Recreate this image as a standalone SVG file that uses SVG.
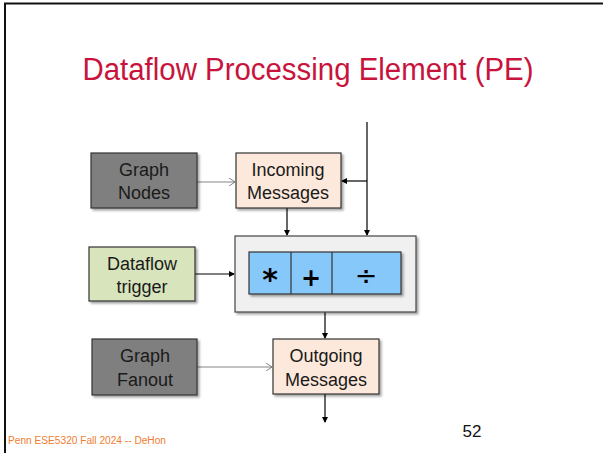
<svg xmlns="http://www.w3.org/2000/svg" width="603" height="453" viewBox="0 0 603 453">
<style>
.lbl{font-family:"Liberation Sans",Arial,sans-serif;font-size:18px;fill:#1a1a1a;text-anchor:middle}
.box{stroke:#333;stroke-width:1.2}
.gray{fill:#7f7f7f}
.peach{fill:#fce9db}
.green{fill:#d8e4bc}
.pe{fill:#f0f0f0;stroke:#444;stroke-width:1.2}
.alu{fill:#87c8fa;stroke:#333;stroke-width:1.2}
.wire{stroke:#000;stroke-width:1.2;fill:none}
.thin{stroke:#666;stroke-width:0.8;fill:none}
.op{font-family:"DejaVu Sans",sans-serif;fill:#000;text-anchor:middle}
</style>
<defs>
<filter id="sh" x="-10%" y="-10%" width="130%" height="130%">
<feDropShadow dx="2" dy="2" stdDeviation="1" flood-color="#000" flood-opacity="0.35"/>
</filter>
<marker id="ah" markerWidth="6" markerHeight="6" refX="5" refY="3" orient="auto" markerUnits="userSpaceOnUse">
<path d="M0,0 L6,3 L0,6 z" fill="#000"/>
</marker>
<marker id="oh" markerWidth="7" markerHeight="8" refX="6" refY="4" orient="auto" markerUnits="userSpaceOnUse">
<path d="M0,0 L6,4 L0,8" fill="none" stroke="#666" stroke-width="0.8"/>
</marker>
</defs>
<rect width="603" height="453" fill="#fff"/>
<path d="M5,453 V3.5 H603" fill="none" stroke="#111" stroke-width="2"/>
<text x="308" y="80" font-family="Liberation Sans,Arial,sans-serif" font-size="31" fill="#c8143c" text-anchor="middle" textLength="451" lengthAdjust="spacingAndGlyphs">Dataflow Processing Element (PE)</text>

<g id="connectors">
<path class="thin" d="M197,182 H235" marker-end="url(#oh)"/>
<path class="wire" d="M367,122 V235" marker-end="url(#ah)"/>
<path class="wire" d="M367,181 H342" marker-end="url(#ah)"/>
<path class="wire" d="M287,208 V235" marker-end="url(#ah)"/>
<path class="wire" d="M195,274 H234" marker-end="url(#ah)"/>
<path class="wire" d="M325,312 V338" marker-end="url(#ah)"/>
<path class="thin" d="M197,367 H272" marker-end="url(#oh)"/>
<path class="wire" d="M325,394 V422" marker-end="url(#ah)"/>
</g>

<g id="graph-nodes">
<rect class="box gray" x="91" y="153" width="106" height="55" filter="url(#sh)"/>
<text class="lbl" x="144" y="176">Graph</text>
<text class="lbl" x="144" y="199">Nodes</text>
</g>
<g id="incoming-messages">
<rect class="box peach" x="236" y="153" width="105" height="55" filter="url(#sh)"/>
<text class="lbl" x="288" y="176">Incoming</text>
<text class="lbl" x="288" y="199">Messages</text>
</g>
<g id="dataflow-trigger">
<rect class="box green" x="89" y="247" width="106" height="54" filter="url(#sh)"/>
<text class="lbl" x="142" y="270">Dataflow</text>
<text class="lbl" x="142" y="293">trigger</text>
</g>
<g id="pe">
<rect class="pe" x="235" y="236" width="181" height="76" filter="url(#sh)"/>
<rect class="alu" x="249" y="252" width="152" height="42" filter="url(#sh)"/>
<line x1="291" y1="252" x2="291" y2="294" stroke="#333" stroke-width="1.2"/>
<line x1="332" y1="252" x2="332" y2="294" stroke="#333" stroke-width="1.2"/>
<text class="op" x="270" y="290" font-size="30" font-weight="bold">*</text>
<text class="op" x="311" y="286" font-size="24" font-weight="bold">+</text>
<text class="op" x="366" y="285" font-size="27">÷</text>
</g>
<g id="graph-fanout">
<rect class="box gray" x="92" y="339" width="105" height="56" filter="url(#sh)"/>
<text class="lbl" x="145" y="362">Graph</text>
<text class="lbl" x="145" y="386">Fanout</text>
</g>
<g id="outgoing-messages">
<rect class="box peach" x="273" y="339" width="106" height="55" filter="url(#sh)"/>
<text class="lbl" x="326" y="362">Outgoing</text>
<text class="lbl" x="326" y="386">Messages</text>
</g>

<text x="8" y="444" font-family="Liberation Sans,Arial,sans-serif" font-size="10" fill="#f07c30" textLength="158" lengthAdjust="spacingAndGlyphs">Penn ESE5320 Fall 2024 -- DeHon</text>
<text x="472" y="437" font-family="Liberation Sans,Arial,sans-serif" font-size="17" fill="#111" text-anchor="middle">52</text>
</svg>
